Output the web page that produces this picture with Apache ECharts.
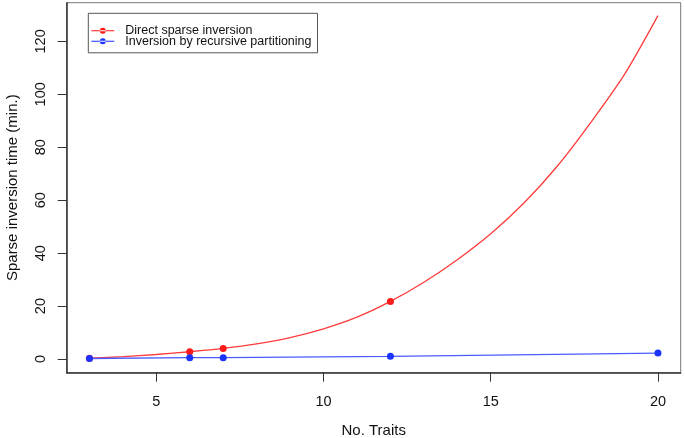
<!DOCTYPE html>
<html style="height: 100%">
<head>
    <meta charset="utf-8">
    <title>Sparse inversion time</title>
</head>
<body style="height: 100%; margin: 0; background: #fff">
<div id="container" style="width: 685px; height: 438px"></div>
<script type="text/javascript" src="https://cdn.jsdelivr.net/npm/echarts@6/dist/echarts.min.js"></script>
<script type="text/javascript">
    // number of traits (curve is drawn through every integer)
    var traits = [3, 4, 5, 6, 7, 8, 9, 10, 11, 12, 13, 14, 15, 16, 17, 18, 19, 20];
    var directCurve = [0.3, 0.9, 1.7, 2.75, 4.0, 5.7, 8.1, 11.4, 15.8, 21.75, 29, 37.5, 47.3, 59, 73, 89.5, 107.5, 129.7];
    // measured points
    var directX = [3, 6, 7, 12];
    var directY = [0.3, 2.75, 4.0, 21.75];
    var recursiveX = [3, 6, 7, 12, 20];
    var recursiveY = [0.2, 0.5, 0.5, 1.0, 2.25];
    var xTicks = [5, 10, 15, 20];
    var yTicks = [0, 20, 40, 60, 80, 100, 120];

    function pairs(xs, ys) {
        var out = [];
        for (var i = 0; i < xs.length; i++) out.push([xs[i], ys[i]]);
        return out;
    }

    // legend icon: short line with a dot in the middle (R style)
    var legendIcon = 'path://M0,2.5h23v1h-23z M8.5,3a3,3 0 1,0 6,0a3,3 0 1,0 -6,0z';

    var dom = document.getElementById("container");
    var myChart = echarts.init(dom, null, {renderer: 'canvas'});
    var font = 'Liberation Sans, Arial, sans-serif';
    var option = {
        animation: false,
        backgroundColor: '#fff',
        grid: {
            left: 66.7, right: 4.3, top: 2.7, bottom: 65.3,
            outerBoundsMode: 'none',
            containLabel: false,
            show: true, borderColor: '#777', borderWidth: 1
        },
        legend: {
            left: 88.3, top: 13.3,
            orient: 'vertical',
            padding: [11, 6, 5, 3],
            itemGap: -2.5,
            itemWidth: 23, itemHeight: 6,
            borderColor: '#555', borderWidth: 1,
            textStyle: {fontFamily: font, fontSize: 12.5, color: '#111', lineHeight: 11, padding: [0, 0, 0, 6]},
            data: [
                {name: 'Direct sparse inversion', icon: legendIcon, itemStyle: {color: '#ff1a1a'}},
                {name: 'Inversion by recursive partitioning', icon: legendIcon, itemStyle: {color: '#1a33ff'}}
            ]
        },
        xAxis: {
            type: 'value',
            min: 2.32, max: 20.68,
            name: 'No. Traits',
            nameLocation: 'middle',
            nameGap: 51,
            nameTextStyle: {fontFamily: font, fontSize: 15, color: '#111'},
            splitLine: {show: false},
            axisLine: {show: true, onZero: false, lineStyle: {color: '#333', width: 1.5}},
            axisTick: {show: true, length: 9, customValues: xTicks, lineStyle: {color: '#333'}},
            axisLabel: {customValues: xTicks, margin: 22, fontFamily: font, fontSize: 14.5, color: '#111'}
        },
        yAxis: {
            type: 'value',
            min: -5.17, max: 134.6,
            name: 'Sparse inversion time (min.)',
            nameLocation: 'middle',
            nameGap: 46,
            nameTextStyle: {fontFamily: font, fontSize: 15, color: '#111'},
            splitLine: {show: false},
            axisLine: {show: true, onZero: false, lineStyle: {color: '#333', width: 1.5}},
            axisTick: {show: true, length: 9, customValues: yTicks, lineStyle: {color: '#333'}},
            axisLabel: {customValues: yTicks, rotate: 90, margin: 18, fontFamily: font, fontSize: 14.5, color: '#111'}
        },
        series: [
            {
                name: 'Direct sparse inversion',
                type: 'line',
                data: pairs(traits, directCurve),
                showSymbol: false,
                smooth: 0.25,
                lineStyle: {color: '#ff3b3b', width: 1.3},
                itemStyle: {color: '#ff1a1a'},
                z: 2
            },
            {
                name: 'Direct sparse inversion',
                type: 'scatter',
                data: pairs(directX, directY),
                symbolSize: 7,
                itemStyle: {color: '#ff1a1a', opacity: 1},
                z: 3
            },
            {
                name: 'Inversion by recursive partitioning',
                type: 'line',
                data: pairs(recursiveX, recursiveY),
                symbol: 'circle',
                symbolSize: 7,
                lineStyle: {color: '#4a5cff', width: 1.3},
                itemStyle: {color: '#1a33ff'},
                z: 4
            }
        ]
    };
    if (option && typeof option === "object") {
        myChart.setOption(option, true);
    }
</script>
</body>
</html>
